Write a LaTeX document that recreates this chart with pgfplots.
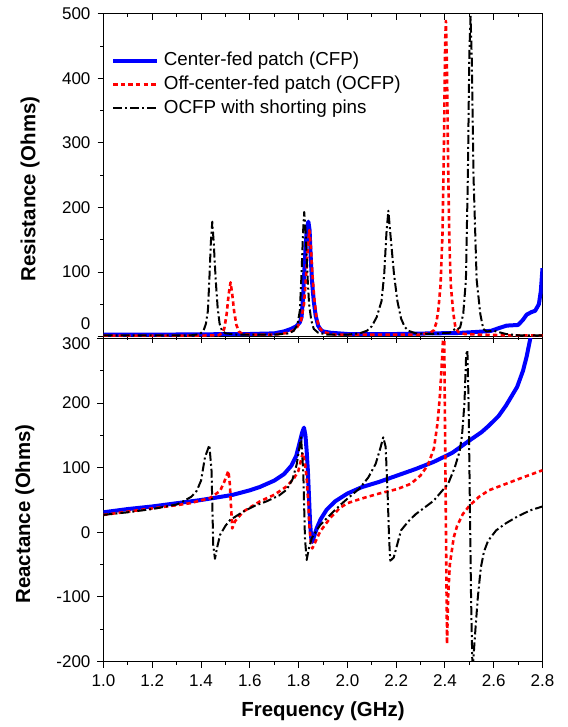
\documentclass[border=0pt]{standalone}
\usepackage{fontspec}
\setmainfont{Liberation Sans}
\usepackage{pgfplots}
\pgfplotsset{compat=1.18}

\pgfplotsset{
  zbase/.style={
    scale only axis, width=219.5pt,
    xmin=1.0, xmax=2.8,
    axis line style={line width=0.5pt, black},
    tick style={line width=0.5pt, black},
    major tick length=3pt, minor tick length=1.6pt,
    tick align=outside, ytick pos=left, xtick pos=left,
    minor x tick num=1, minor y tick num=1,
    tick label style={font=\fontsize{8.5}{10}\selectfont},
    label style={font=\bfseries\fontsize{10.2}{12}\selectfont},
    xtick={1.0,1.2,1.4,1.6,1.8,2.0,2.2,2.4,2.6,2.8},
  },
  cfp/.style={color={rgb,255:red,0;green,0;blue,255}, line width=2pt, line join=round},
  ocfp/.style={color={rgb,255:red,255;green,0;blue,0}, line width=1.3pt, line join=round, dash pattern=on 2.2pt off 1.6pt},
  pins/.style={black, line width=1pt, line join=round, dash pattern=on 4.5pt off 1.5pt on 1pt off 1.5pt},
}

\begin{document}
\begin{tikzpicture}
\path[use as bounding box] (0,0) rectangle (283.5pt,363.5pt);

% resistance
\begin{axis}[zbase,
  at={(51.75pt,195.2pt)}, anchor=south west, height=161.4pt,
  ymin=0, ymax=500,
  ytick={0,100,200,300,400,500}, yticklabels={,100,200,300,400,500},
  extra y ticks={0}, extra y tick labels={0},
  extra y tick style={yticklabel style={yshift=6.3pt}},
  xticklabels={},
  ylabel={Resistance (Ohms)},
  ylabel style={at={(axis description cs:-0.167,0.457)}, anchor=center},
  legend style={at={(rel axis cs:0.0166,0.885)}, anchor=north west, draw=none, fill=none,
    inner sep=0pt, row sep=2.6pt, font=\fontsize{9.4}{11}\selectfont,
    nodes={inner ysep=0.5pt, inner xsep=2.6pt}},
  legend cell align=left,
  legend image code/.code={\draw[#1] (0pt,0pt) -- (21.75pt,0pt);},
]
\addplot[cfp] coordinates {
(1.00,3) (1.20,3) (1.40,3.5) (1.60,4) (1.70,5) (1.74,8) (1.77,12) (1.79,16) (1.805,22)
(1.812,30) (1.818,60) (1.822,90) (1.828,135) (1.834,168) (1.840,178) (1.845,165)
(1.850,120) (1.855,85) (1.862,55) (1.870,32) (1.88,17) (1.89,11) (1.90,8) (1.93,6)
(2.00,4) (2.20,4) (2.35,5) (2.45,5.5) (2.52,7) (2.56,8) (2.59,9) (2.62,13) (2.653,17)
(2.70,18) (2.72,26) (2.735,34) (2.755,38) (2.77,40) (2.785,50) (2.793,70) (2.80,106)
};
\addlegendentry{Center-fed patch (CFP)}
\addplot[ocfp] coordinates {
(1.00,1.5) (1.40,1.5) (1.47,2) (1.485,5) (1.495,12) (1.505,35) (1.513,65) (1.521,84)
(1.528,65) (1.536,38) (1.545,18) (1.555,8) (1.57,4) (1.62,3) (1.70,3) (1.76,6) (1.79,12)
(1.81,25) (1.822,50) (1.830,90) (1.838,140) (1.844,165) (1.850,140) (1.856,100)
(1.864,60) (1.873,30) (1.885,14) (1.90,7) (1.95,3) (2.20,3) (2.30,3) (2.34,6) (2.355,10)
(2.365,22) (2.373,42) (2.382,80) (2.390,160) (2.396,300) (2.401,460) (2.404,489)
(2.408,420) (2.413,270) (2.418,150) (2.424,80) (2.434,37) (2.443,14) (2.455,7)
(2.48,4) (2.55,3) (2.65,2) (2.80,2)
};
\addlegendentry{Off-center-fed patch (OCFP)}
\addplot[pins] coordinates {
(1.00,2) (1.36,2) (1.395,4) (1.41,9) (1.42,20) (1.428,40) (1.434,88) (1.440,145)
(1.446,178) (1.452,145) (1.460,88) (1.468,45) (1.476,20) (1.485,10) (1.50,5) (1.55,3)
(1.70,3) (1.76,5) (1.78,9) (1.795,18) (1.805,40) (1.812,97) (1.818,160) (1.823,193)
(1.829,160) (1.836,97) (1.843,50) (1.852,25) (1.862,12) (1.88,6) (1.92,3) (2.00,3)
(2.05,5) (2.08,9) (2.10,16) (2.12,30) (2.14,55) (2.151,97) (2.160,160) (2.168,195)
(2.176,160) (2.191,97) (2.205,55) (2.22,28) (2.235,15) (2.25,9) (2.28,5) (2.35,4)
(2.42,6) (2.435,10) (2.442,12) (2.45,11) (2.462,14) (2.475,35) (2.486,88) (2.494,250)
(2.500,440) (2.505,497) (2.510,430) (2.517,250) (2.530,88) (2.545,35) (2.557,12)
(2.57,8) (2.60,9) (2.62,7) (2.65,4) (2.70,2) (2.80,2)
};
\addlegendentry{OCFP with shorting pins}
\end{axis}

% top edge ticks of the upper panel, pointing inwards
\begin{axis}[zbase,
  at={(51.75pt,195.2pt)}, anchor=south west, height=161.4pt,
  ymin=0, ymax=500, ytick=\empty, minor y tick num=0,
  xtick pos=right, tick align=inside, xticklabels={},
  axis line style={draw=none},
]
\end{axis}

% reactance
\begin{axis}[zbase,
  at={(51.75pt,32.75pt)}, anchor=south west, height=161.5pt,
  ymin=-200, ymax=300,
  axis line style={line width=0.5pt, black},
  ytick={-200,-100,0,100,200,300}, yticklabels={-200,-100,0,100,200,},
  extra y ticks={300}, extra y tick labels={300},
  extra y tick style={yticklabel style={yshift=-2.7pt}},
  xticklabels={1.0,1.2,1.4,1.6,1.8,2.0,2.2,2.4,2.6,2.8},
  xlabel={Frequency (GHz)},
  xlabel style={at={(axis description cs:0.5,-0.155)}, anchor=center},
  ylabel={Reactance (Ohms)},
  ylabel style={at={(axis description cs:-0.179,0.457)}, anchor=center},
]
\addplot[cfp] coordinates {
(1.00,31) (1.10,36) (1.20,40) (1.30,45) (1.40,50) (1.45,53) (1.53,58) (1.60,65) (1.64,70)
(1.70,80) (1.74,90) (1.77,103) (1.79,118) (1.805,140) (1.815,155) (1.822,162) (1.828,150)
(1.833,126) (1.838,95) (1.842,60) (1.847,15) (1.852,-10) (1.856,-15) (1.862,-8)
(1.874,6) (1.89,20) (1.915,35) (1.95,48) (2.00,60) (2.06,70) (2.13,78) (2.205,88)
(2.28,98) (2.354,109) (2.43,123) (2.50,142) (2.55,155) (2.58,165) (2.62,180) (2.65,196)
(2.696,225) (2.72,250) (2.735,272) (2.75,300) (2.76,320)
};
\addplot[ocfp] coordinates {
(1.00,27) (1.10,32) (1.20,37) (1.30,42) (1.355,45) (1.437,53) (1.478,64) (1.495,78)
(1.512,95) (1.518,75) (1.521,53) (1.528,6) (1.539,17) (1.573,32) (1.642,48) (1.70,58)
(1.751,71) (1.78,83) (1.799,95) (1.817,123) (1.826,108) (1.833,84) (1.839,50) (1.844,11)
(1.850,-15) (1.856,-25) (1.865,-18) (1.888,1) (1.929,22) (1.97,38) (2.00,45) (2.056,52)
(2.13,60) (2.205,67) (2.26,75) (2.30,88) (2.33,104) (2.355,130) (2.37,170) (2.38,215)
(2.39,280) (2.396,340) (2.4085,-173) (2.413,-100) (2.42,-50) (2.436,-8) (2.45,10)
(2.473,28) (2.50,41) (2.54,55) (2.58,65) (2.65,75) (2.72,85) (2.80,96)
};
\addplot[pins] coordinates {
(1.00,27) (1.10,31) (1.20,36) (1.30,43) (1.327,48) (1.36,55) (1.382,64) (1.40,80)
(1.416,116) (1.434,135) (1.443,95) (1.450,-20) (1.457,-41) (1.465,-25) (1.478,-4)
(1.50,10) (1.519,19) (1.573,32) (1.62,41) (1.669,48) (1.72,57) (1.751,66) (1.775,82)
(1.792,105) (1.810,147) (1.819,95) (1.826,-9) (1.833,-43) (1.842,-25) (1.854,-9)
(1.888,11) (1.929,27) (1.97,42) (2.00,52) (2.05,68) (2.086,85) (2.116,106) (2.135,130)
(2.147,147) (2.157,132) (2.165,60) (2.171,-10) (2.176,-44) (2.19,-39) (2.205,-18)
(2.22,3) (2.25,17) (2.28,28) (2.354,49) (2.413,75) (2.44,100) (2.46,125) (2.47,150)
(2.48,200) (2.487,275) (2.492,282) (2.497,200) (2.502,50) (2.507,-100) (2.513,-215)
(2.525,-150) (2.535,-100) (2.547,-55) (2.56,-30) (2.577,-13) (2.61,3) (2.65,14)
(2.70,25) (2.75,34) (2.80,40)
};
\end{axis}
\end{tikzpicture}
\end{document}
